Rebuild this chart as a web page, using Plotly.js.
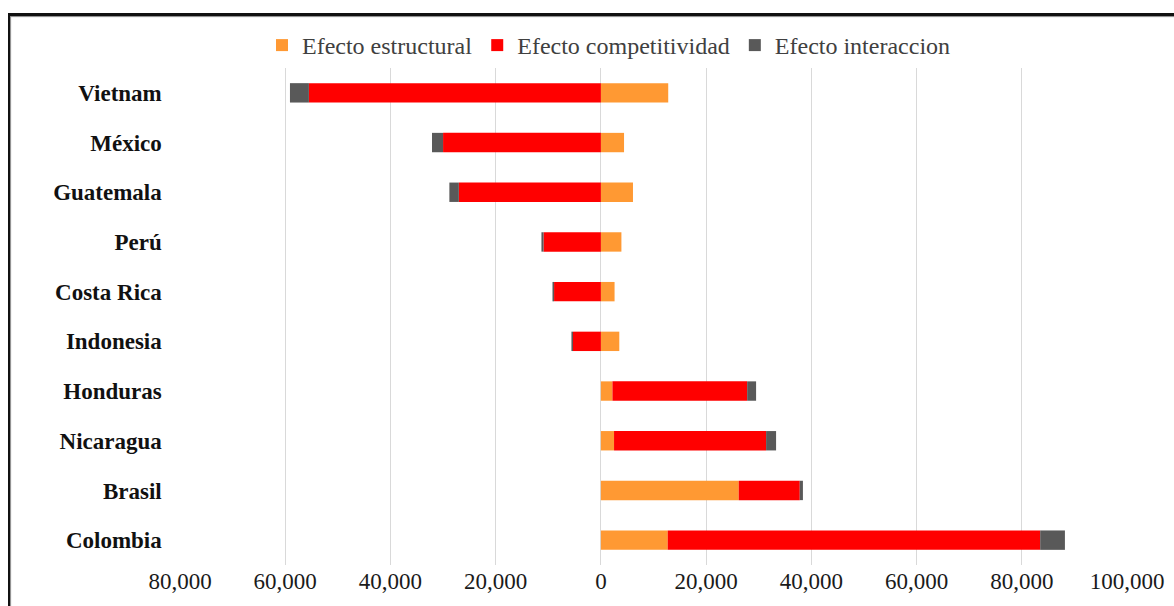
<!DOCTYPE html>
<html>
<head>
<meta charset="utf-8">
<script src="https://cdn.plot.ly/plotly-3.0.1.min.js"></script>
<style>
  html, body { margin: 0; padding: 0; background: #fff; overflow: hidden; }
  #chart { position: absolute; left: 0; top: 0; width: 1174px; height: 606px; }
  #frame { position: absolute; left: 8px; top: 13px; width: 1200px; height: 700px;
           border-left: 2px solid #111; border-top: 3px solid #111; pointer-events: none;
           box-shadow: inset 1px 1px 1px #888; }
</style>
</head>
<body>
<div id="chart"></div>
<div id="frame"></div>
<script>
const countries = ["Vietnam", "México", "Guatemala", "Perú", "Costa Rica", "Indonesia", "Honduras", "Nicaragua", "Brasil", "Colombia"];
const efectoEstructural = [12800, 4400, 6100, 3900, 2600, 3500, 2200, 2500, 26200, 12700];
const efectoCompetitividad = [-55500, -30000, -27000, -10900, -8900, -5300, 25600, 28900, 11600, 70800];
const efectoInteraccion = [-3600, -2100, -1800, -400, -300, -300, 1700, 1900, 600, 4700];
const tickValues = [-80000, -60000, -40000, -20000, 0, 20000, 40000, 60000, 80000, 100000];
const tickLabels = ["80,000", "60,000", "40,000", "20,000", "0", "20,000", "40,000", "60,000", "80,000", "100,000"];
const seriesNames = ["Efecto estructural", "Efecto competitividad", "Efecto interaccion"];

const colors = ["#FF9933", "#FF0000", "#595959"];
const seriesData = [efectoEstructural, efectoCompetitividad, efectoInteraccion];

const traces = seriesData.map((vals, i) => ({
  type: "bar",
  orientation: "h",
  name: seriesNames[i],
  y: countries,
  x: vals,
  width: 0.39,
  marker: { color: colors[i], line: { width: 0 } },
  hoverinfo: "x+y+name"
}));

const layout = {
  width: 1174,
  height: 606,
  barmode: "relative",
  margin: { l: 180, r: 47, t: 68, b: 41 },
  paper_bgcolor: "rgba(0,0,0,0)",
  plot_bgcolor: "rgba(0,0,0,0)",
  font: { family: "Liberation Serif, serif", color: "#404040" },
  showlegend: true,
  legend: {
    orientation: "h",
    x: 0.453, xanchor: "center",
    y: 1.0, yanchor: "bottom",
    xref: "paper", yref: "paper",
    traceorder: "normal",
    font: { family: "Liberation Serif, serif", size: 24, color: "#404040" },
    itemwidth: 30,
    bgcolor: "rgba(0,0,0,0)"
  },
  xaxis: {
    range: [-80000, 100000],
    tickvals: tickValues,
    ticktext: tickLabels,
    showgrid: true,
    gridcolor: "#D9D9D9",
    gridwidth: 1,
    zeroline: true,
    zerolinecolor: "#D9D9D9",
    zerolinewidth: 1,
    showline: false,
    ticks: "",
    ticklen: 0,
    tickfont: { family: "Liberation Serif, serif", size: 23, color: "#1a1a1a" },
    fixedrange: true
  },
  yaxis: {
    categoryorder: "array",
    categoryarray: countries,
    autorange: "reversed",
    showgrid: false,
    zeroline: false,
    showline: false,
    ticks: "",
    ticksuffix: "   ",
    tickfont: { family: "Liberation Serif, serif", size: 23, color: "#111", weight: "bold" },
    fixedrange: true
  }
};

Plotly.newPlot("chart", traces, layout, { displayModeBar: false, staticPlot: true });
</script>
</body>
</html>
